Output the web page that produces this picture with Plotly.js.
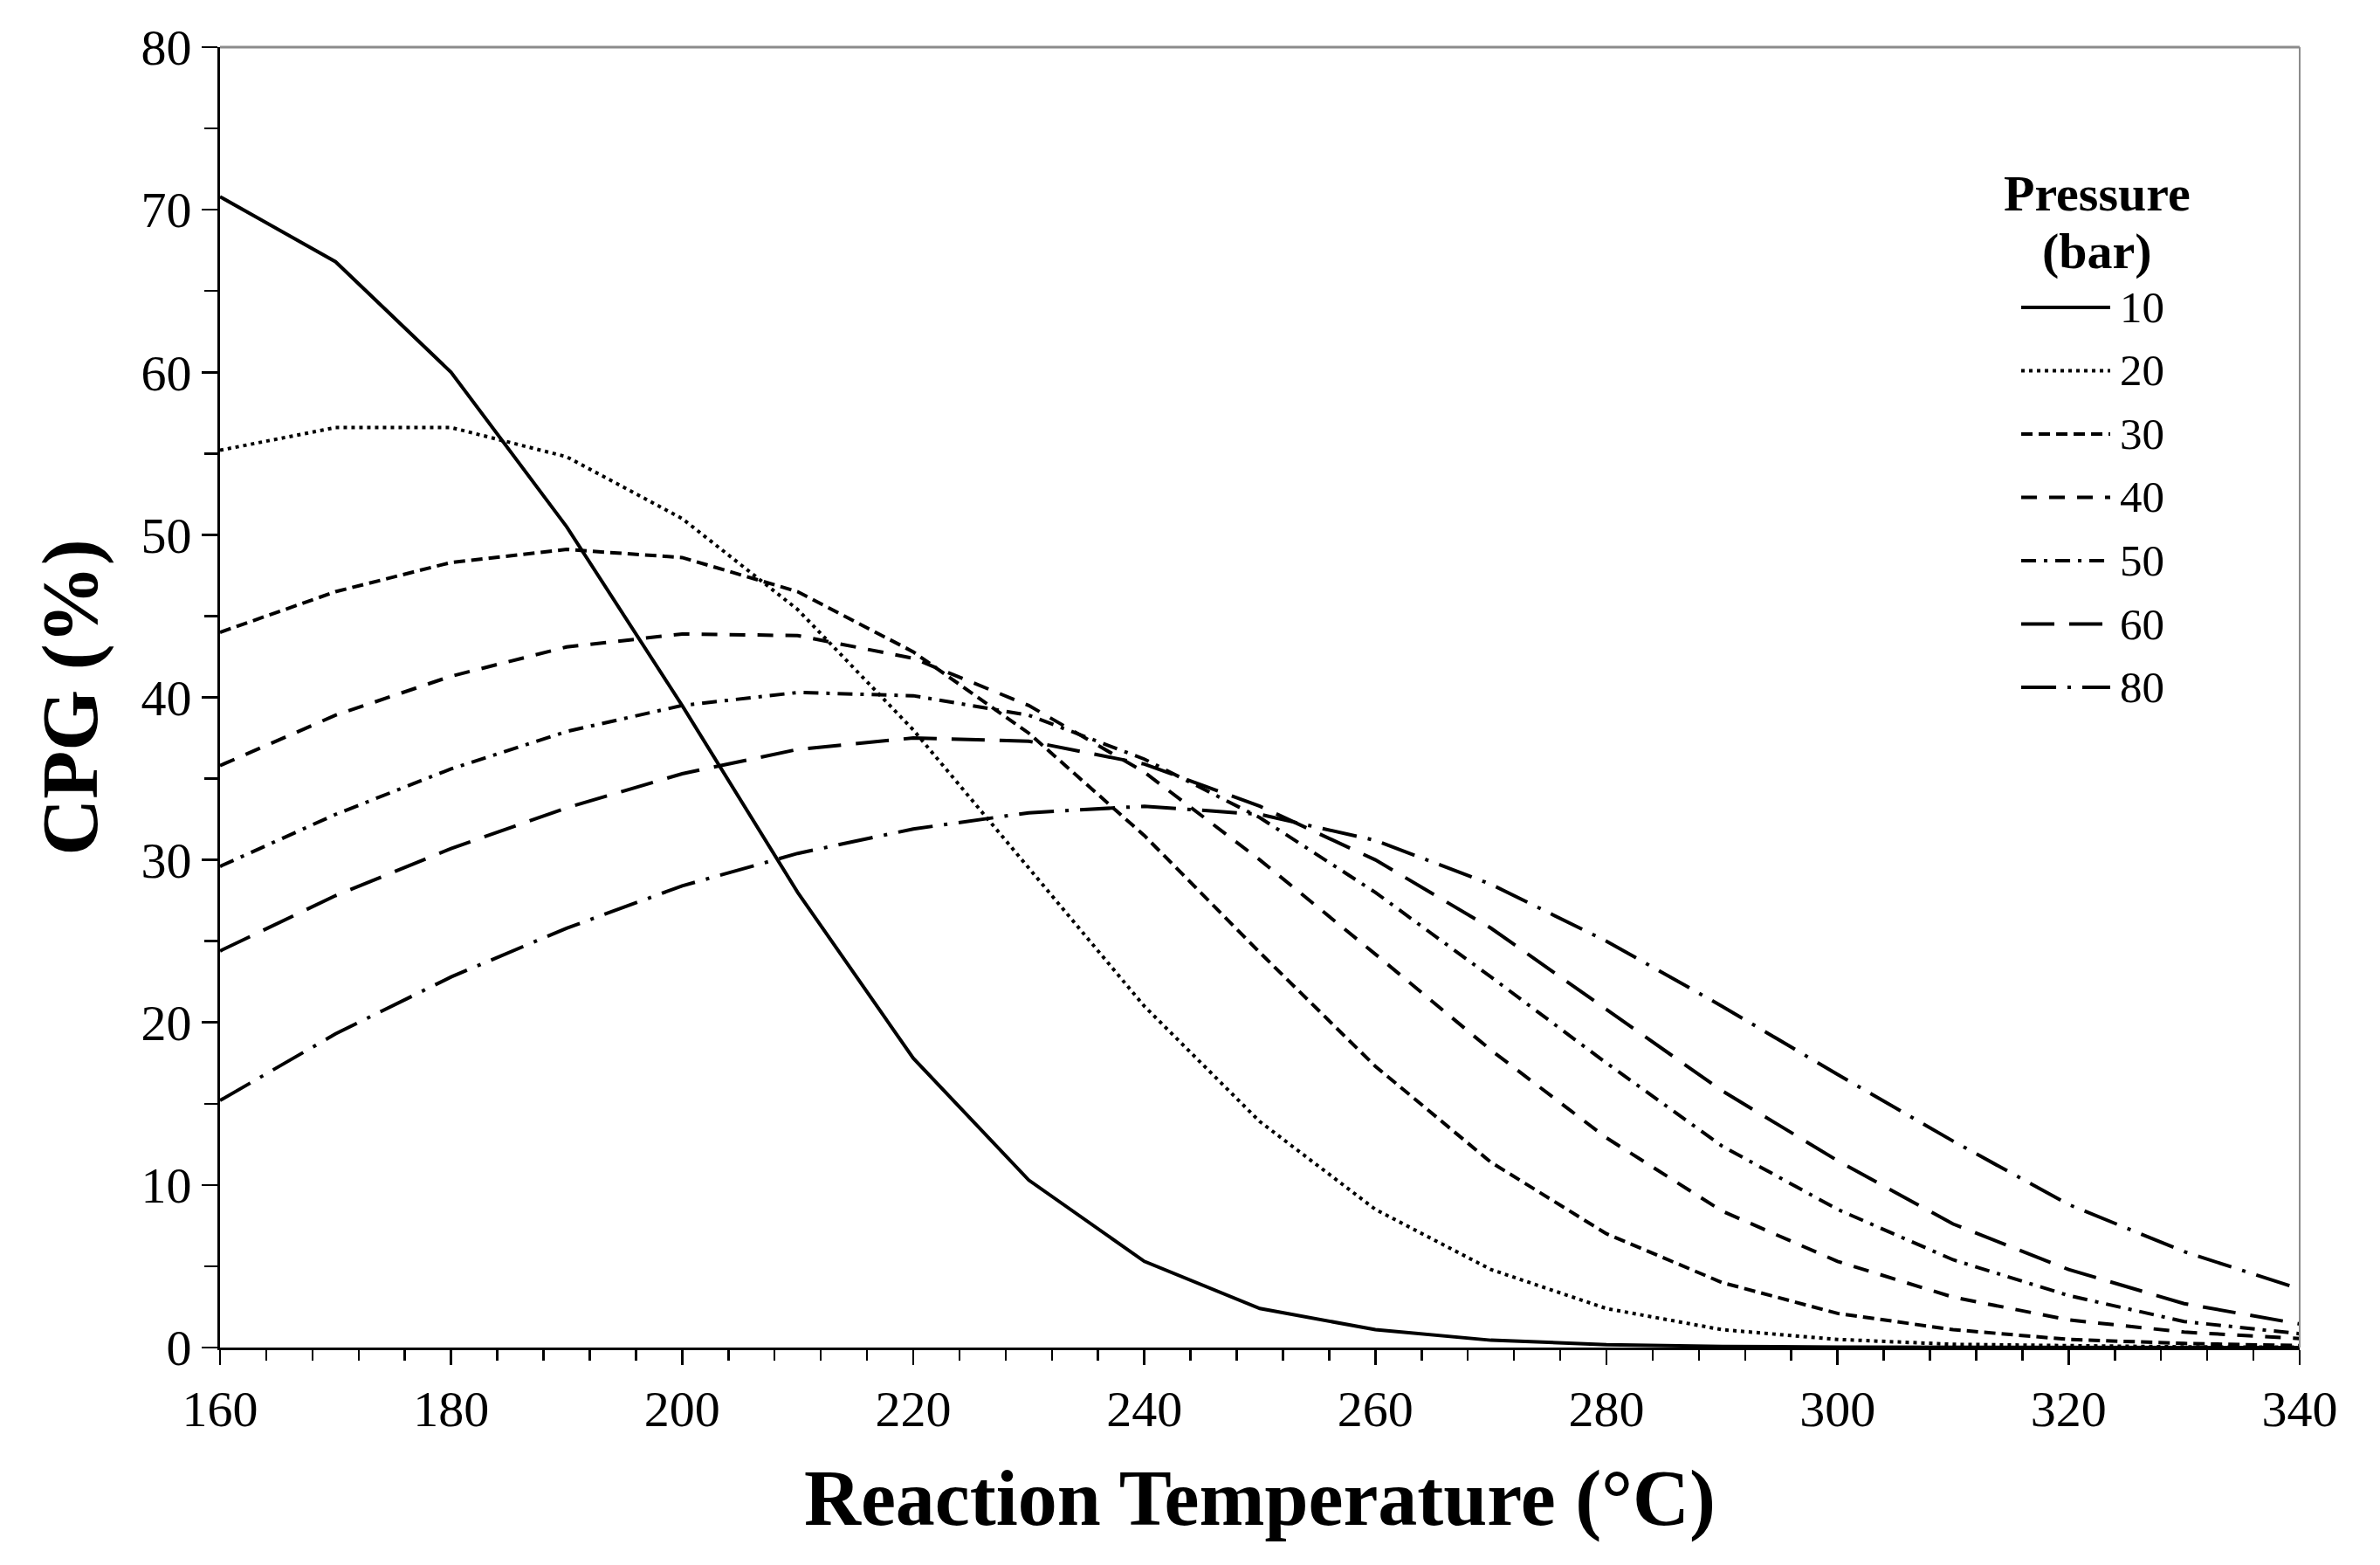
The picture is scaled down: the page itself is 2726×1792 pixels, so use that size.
<!DOCTYPE html>
<html>
<head>
<meta charset="utf-8">
<script src="https://cdn.plot.ly/plotly-3.0.1.min.js"></script>
<style>
  html, body { margin: 0; padding: 0; background: #fff; }
  #chart { width: 2726px; height: 1792px; }
</style>
</head>
<body>
<div id="chart"></div>
<script>
// reaction temperature (°C)
const temps = [160, 170, 180, 190, 200, 210, 220, 230, 240, 250, 260, 270, 280, 290, 300, 310, 320, 330, 340];

// CPG (%) per pressure
const p10 = [70.8, 66.8, 60.0, 50.5, 39.5, 28.0, 17.8, 10.3, 5.3, 2.4, 1.1, 0.45, 0.18, 0.07, 0.03, 0.01, 0, 0, 0];
const p20 = [55.2, 56.6, 56.6, 54.8, 51.0, 45.4, 38.0, 29.5, 21.0, 13.9, 8.5, 4.8, 2.4, 1.1, 0.5, 0.2, 0.1, 0.04, 0.02];
const p30 = [44.0, 46.5, 48.3, 49.1, 48.6, 46.5, 42.8, 37.8, 31.5, 24.3, 17.3, 11.4, 7.0, 4.0, 2.1, 1.1, 0.5, 0.25, 0.12];
const p40 = [35.8, 38.9, 41.3, 43.1, 43.9, 43.8, 42.4, 39.5, 35.4, 30.0, 24.2, 18.3, 12.9, 8.4, 5.3, 3.1, 1.7, 0.95, 0.55];
const p50 = [29.6, 32.8, 35.6, 37.9, 39.5, 40.3, 40.1, 38.9, 36.2, 32.6, 28.0, 22.8, 17.5, 12.4, 8.5, 5.4, 3.2, 1.6, 0.85];
const p60 = [24.4, 27.8, 30.7, 33.2, 35.3, 36.8, 37.5, 37.3, 35.9, 33.3, 30.0, 25.8, 20.8, 15.8, 11.5, 7.6, 4.8, 2.7, 1.45];
const p80 = [15.2, 19.3, 22.8, 25.8, 28.4, 30.4, 31.9, 32.9, 33.3, 32.8, 31.2, 28.5, 25.0, 21.0, 16.8, 12.7, 8.8, 5.9, 3.6];

const pressures = ['10', '20', '30', '40', '50', '60', '80'];
const series = [p10, p20, p30, p40, p50, p60, p80];

const dashes = [
  'solid',
  '4px,5px',
  '13px,7px',
  '18px,14px',
  '17px,9px,4px,9px',
  '38px,17px',
  '40px,13px,4px,13px'
];

const serif = 'Liberation Serif, Times New Roman, serif';

let traces = series.map((ys, i) => ({
  x: temps,
  y: ys,
  type: 'scatter',
  mode: 'lines',
  name: pressures[i],
  line: { color: '#000', width: 4, dash: dashes[i] },
  showlegend: false,
  hoverinfo: 'x+y+name'
}));

// hand-made legend so the line samples are as long as in the figure
let shapes = [
  { type: 'line', xref: 'paper', yref: 'paper', x0: 0, x1: 1, y0: 1, y1: 1, line: { color: '#8c8c8c', width: 3 } },
  { type: 'line', xref: 'paper', yref: 'paper', x0: 1, x1: 1, y0: 0, y1: 1, line: { color: '#8c8c8c', width: 2 } }
];
let annotations = [
  {
    xref: 'paper', yref: 'paper', x: 0.9026, y: 0.8878,
    xanchor: 'center', yanchor: 'middle', showarrow: false,
    text: '<b>Pressure</b>',
    font: { family: serif, size: 58, color: '#000' }
  },
  {
    xref: 'paper', yref: 'paper', x: 0.9026, y: 0.8435,
    xanchor: 'center', yanchor: 'middle', showarrow: false,
    text: '<b>(bar)</b>',
    font: { family: serif, size: 58, color: '#000' }
  }
];
let legTop = 0.7999, legStep = 0.0487;
pressures.forEach((p, i) => {
  let yy = legTop - i * legStep;
  shapes.push({
    type: 'line', xref: 'paper', yref: 'paper',
    x0: 0.8661, x1: 0.9089, y0: yy, y1: yy,
    line: { color: '#000', width: 4, dash: dashes[i] }
  });
  annotations.push({
    xref: 'paper', yref: 'paper', x: 0.9125, y: yy,
    xanchor: 'left', yanchor: 'middle', showarrow: false,
    text: p, font: { family: serif, size: 51, color: '#000' }
  });
});

let layout = {
  width: 2726,
  height: 1792,
  margin: { l: 252, r: 92, t: 54, b: 249 },
  paper_bgcolor: '#fff',
  plot_bgcolor: '#fff',
  font: { family: serif, color: '#000' },
  xaxis: {
    range: [160, 340],
    tick0: 160,
    dtick: 20,
    ticks: 'outside',
    ticklen: 17,
    tickwidth: 2.7,
    tickcolor: '#000',
    minor: { dtick: 4, ticks: 'outside', ticklen: 12, tickwidth: 2.5, tickcolor: '#000', showgrid: false },
    showline: true,
    linecolor: '#000',
    linewidth: 3,
    showgrid: false,
    zeroline: false,
    automargin: false,
    tickfont: { family: serif, size: 58, color: '#000' },
    title: {
      text: 'Reaction Temperature (°C)',
      font: { family: serif, size: 90, color: '#000', weight: 'bold' },
      standoff: 39
    }
  },
  yaxis: {
    range: [0, 80],
    dtick: 10,
    ticks: 'outside',
    ticklen: 18,
    tickwidth: 2.7,
    tickcolor: '#000',
    minor: { dtick: 5, ticks: 'outside', ticklen: 15, tickwidth: 2.5, tickcolor: '#000', showgrid: false },
    showline: true,
    linecolor: '#000',
    linewidth: 3,
    showgrid: false,
    zeroline: false,
    automargin: false,
    tickfont: { family: serif, size: 58, color: '#000' },
    title: {
      text: 'CPG (%)',
      font: { family: serif, size: 90, color: '#000', weight: 'bold' },
      standoff: 20
    }
  },
  shapes: shapes,
  annotations: annotations,
  showlegend: false
};

Plotly.newPlot('chart', traces, layout, { displayModeBar: false, staticPlot: true });
</script>
</body>
</html>
